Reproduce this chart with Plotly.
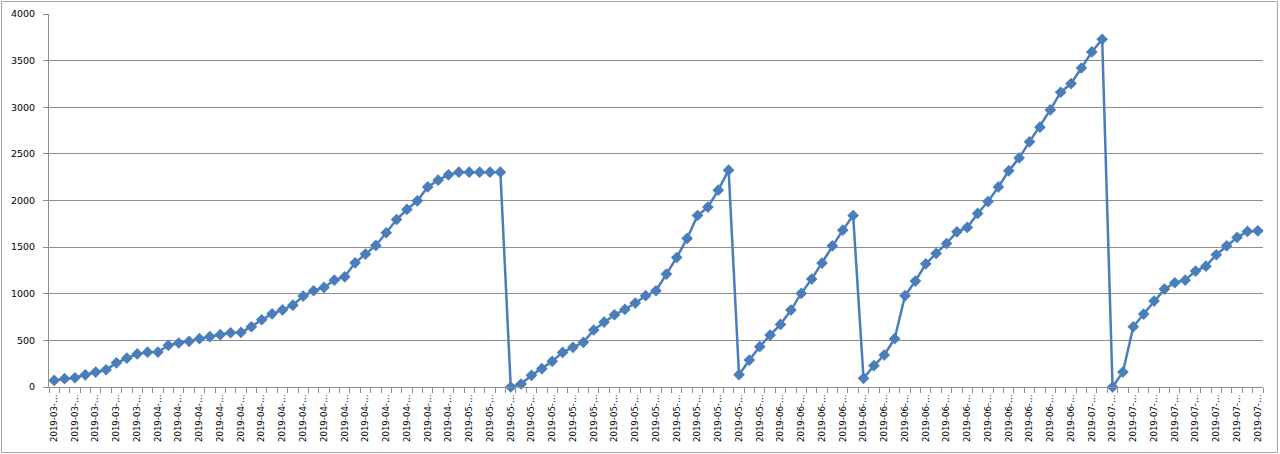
import datetime as dt
import plotly.graph_objects as go

start_date = "2019-03-23"
n_days = 117
d0 = dt.date.fromisoformat(start_date)
dates = [(d0 + dt.timedelta(days=i)).isoformat() for i in range(n_days)]

values = [
    71, 89, 99, 131, 160, 185, 259, 309, 355, 373,
    375, 447, 472, 490, 518, 540, 561, 582, 585, 646,
    721, 785, 827, 877, 975, 1032, 1068, 1146, 1182, 1332,
    1425, 1518, 1654, 1796, 1904, 1996, 2146, 2218, 2275, 2304,
    2304, 2304, 2304, 2304, 0, 32, 125, 196, 275, 371,
    425, 479, 611, 696, 775, 832, 900, 979, 1032, 1211,
    1389, 1593, 1839, 1929, 2111, 2325, 132, 289, 432, 557,
    671, 825, 1004, 1157, 1329, 1514, 1682, 1839, 93, 229,
    343, 518, 979, 1136, 1321, 1432, 1539, 1664, 1711, 1861,
    1989, 2146, 2318, 2457, 2629, 2786, 2971, 3161, 3254, 3421,
    3593, 3729, 0, 161, 646, 782, 921, 1050, 1118, 1146,
    1243, 1296, 1418, 1514, 1604, 1668, 1675,
]

tick_dates = dates[::2]
tick_text = [d[:8] + "…" for d in tick_dates]

y_ticks = list(range(0, 4001, 500))

blue = "#4A7EBB"
grid = "#8E8E8E"
yfont = dict(family="DejaVu Sans", size=9.5, color="#000000")
xfont = dict(family="DejaVu Sans", size=8.6, color="#000000")

fig = go.Figure()
fig.add_trace(go.Scatter(
    x=dates, y=values, mode="lines+markers",
    line=dict(color=blue, width=2.5),
    marker=dict(symbol="diamond", size=9, color=blue),
    cliponaxis=False, showlegend=False,
))

first = dt.datetime.fromisoformat(dates[0]) - dt.timedelta(hours=12)
last = dt.datetime.fromisoformat(dates[-1]) + dt.timedelta(hours=12)

fig.update_layout(
    width=1280, height=454,
    margin=dict(l=49, r=17, t=14, b=67, autoexpand=False),
    paper_bgcolor="white", plot_bgcolor="white",
    font=yfont,
    xaxis=dict(
        type="date", automargin=False,
        range=[first.isoformat(), last.isoformat()],
        tickmode="array", tickvals=tick_dates, ticktext=tick_text,
        tickangle=-90, ticks="", showgrid=False,
        showline=True, linecolor=grid, linewidth=1,
        tickfont=xfont, zeroline=False, ticklabelstandoff=3,
        minor=dict(ticks="outside", ticklen=5, tickcolor=grid,
                   dtick=86400000, tick0=first.isoformat(), showgrid=False),
    ),
    yaxis=dict(
        automargin=False,
        range=[0, 4000], tickmode="array", tickvals=y_ticks,
        ticktext=[str(v) for v in y_ticks],
        showgrid=True, gridcolor=grid, gridwidth=1,
        showline=True, linecolor=grid, linewidth=1,
        ticks="outside", ticklen=5, tickcolor=grid,
        tickfont=yfont, zeroline=False, ticklabelstandoff=6,
    ),
    shapes=[dict(
        type="rect", xref="paper", yref="paper",
        x0=(1.5 - 49) / 1214, x1=(1277.5 - 49) / 1214,
        y0=(387 - 452.5) / 373, y1=(387 - 1.5) / 373,
        line=dict(color="#A6A6A6", width=1), fillcolor="rgba(0,0,0,0)",
        layer="below",
    )],
)

fig.write_html(
    "out.html",
    config={"displayModeBar": False},
    post_script="document.body.style.margin='0';document.body.style.overflow='hidden';",
)
